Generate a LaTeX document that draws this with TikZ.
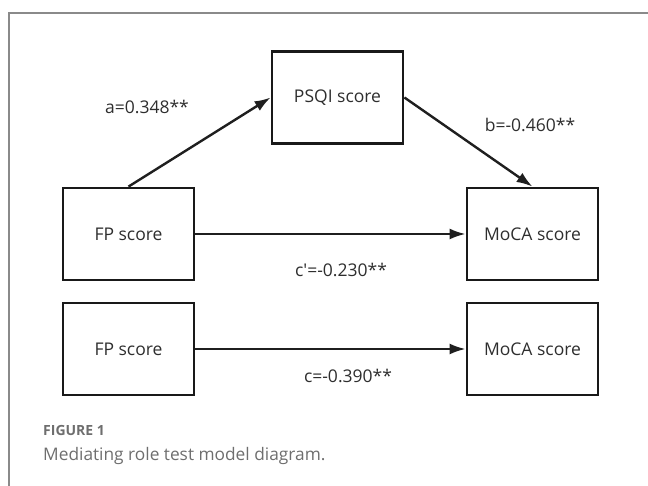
\documentclass[tikz,border=0pt]{standalone}
\usepackage{fontspec}
\setmainfont{Open Sans}
\usetikzlibrary{arrows.meta}
\definecolor{txt}{HTML}{2E2E2E}
\definecolor{framegray}{HTML}{8A8A8A}
\definecolor{capgray}{HTML}{6E6E6E}
\tikzset{
  var/.style={draw=black!90, line width=2.8pt, minimum width=131pt, minimum height=92pt,
    inner sep=0pt, text=txt, font=\fontsize{17.5}{20}\selectfont},
  path/.style={draw=black!88, line width=2.4pt, -{Latex[length=16pt,width=11pt]}},
  coef/.style={text=txt, font=\fontsize{17.5}{20}\selectfont, inner sep=0pt}
}
\begin{document}
\begin{tikzpicture}[x=1pt,y=-1pt]
  \useasboundingbox (0,0) rectangle (648,486);
  % panel frame
  \draw[framegray, line width=1.3pt] (9,486) -- (9,13) -- (648,13);
  % variables
  \node[var] (psqi) at (337.5,97.5) {PSQI score};
  \node[var] (fp1)  at (128.5,234) {FP score};
  \node[var] (moca1) at (532.5,234) {MoCA score};
  \node[var] (fp2)  at (128.5,349) {FP score};
  \node[var] (moca2) at (532.5,349) {MoCA score};
  % paths
  \draw[path] (fp1.north) -- (psqi.west);
  \draw[path] (psqi.east) -- (moca1.north);
  \draw[path] (fp1.east) -- (moca1.west);
  \draw[path] (fp2.east) -- (moca2.west);
  % coefficients
  \node[coef] (la) at (147,107) {a=0.348**};
  \node[coef] (lb) at (530,125) {b=-0.460**};
  \node[coef] (lcp) at (341,270) {c\textquotesingle=-0.230**};
  \node[coef] (lc) at (348,376) {c=-0.390**};
  % caption
  \node[anchor=west, inner sep=0pt, text=capgray, font=\fontsize{14}{16}\selectfont\bfseries] (fig) at (43,430) {FIGURE 1};
  \node[anchor=west, inner sep=0pt, text=capgray, font=\fontsize{17.3}{20}\selectfont] (cap) at (43,456) {Mediating role test model diagram.};
\end{tikzpicture}
\end{document}
